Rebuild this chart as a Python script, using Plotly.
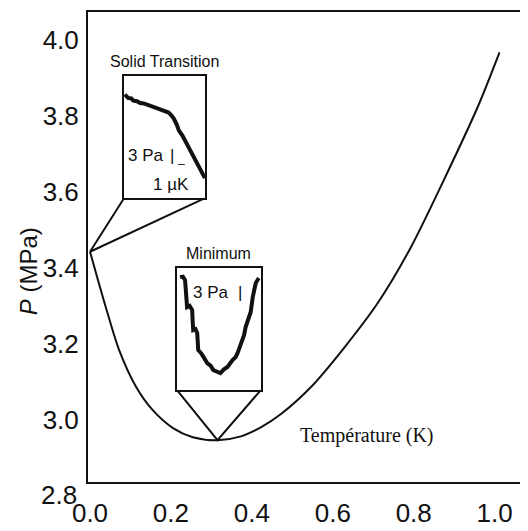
import plotly.graph_objects as go

# ---------------- data ----------------
temp_K = [0.005, 0.044, 0.077, 0.119, 0.160, 0.210, 0.259, 0.320, 0.378, 0.427,
          0.477, 0.551, 0.632, 0.716, 0.798, 0.879, 0.963, 1.017]
pressure_MPa = [3.430, 3.284, 3.171, 3.074, 3.013, 2.966, 2.942, 2.934, 2.944, 2.968,
                3.003, 3.074, 3.176, 3.295, 3.442, 3.618, 3.811, 3.955]

x_tick_vals = [0.0, 0.2, 0.4, 0.6, 0.8, 1.0]
x_tick_text = ["0.0", "0.2", "0.4", "0.6", "0.8", "1.0"]
y_tick_vals = [2.8, 3.0, 3.2, 3.4, 3.6, 3.8, 4.0]
y_tick_text = ["2.8", "3.0", "3.2", "3.4", "3.6", "3.8", "4.0"]

# inset "Solid Transition" trace (normalised units inside the inset box)
solid_x = [0.01, 0.05, 0.09, 0.115, 0.16, 0.20, 0.244, 0.29, 0.33, 0.372, 0.42, 0.47,
           0.51, 0.551, 0.585, 0.615, 0.65, 0.679, 0.72, 0.756, 0.80, 0.846, 0.89,
           0.936, 0.97, 1.0]
solid_y = [0.850, 0.822, 0.818, 0.800, 0.795, 0.780, 0.777, 0.768, 0.752, 0.744, 0.735,
           0.722, 0.712, 0.702, 0.680, 0.653, 0.605, 0.554, 0.515, 0.471, 0.420, 0.364,
           0.305, 0.240, 0.205, 0.165]

# inset "Minimum" trace (normalised units inside the inset box)
min_x = [0.036, 0.070, 0.096, 0.110, 0.120, 0.150, 0.181, 0.187, 0.193, 0.220, 0.241,
         0.247, 0.253, 0.290, 0.313, 0.361, 0.400, 0.434, 0.480, 0.518, 0.560, 0.602,
         0.663, 0.700, 0.723, 0.783, 0.800, 0.819, 0.855, 0.880, 0.904, 0.940, 0.976]
min_y = [0.926, 0.930, 0.902, 0.800, 0.680, 0.690, 0.656, 0.560, 0.492, 0.500, 0.467,
         0.400, 0.328, 0.300, 0.270, 0.221, 0.200, 0.164, 0.150, 0.139, 0.170, 0.189,
         0.246, 0.270, 0.303, 0.410, 0.450, 0.516, 0.598, 0.640, 0.762, 0.877, 0.918]

# ---------------- layout constants ----------------
X_RANGE = [0.0, 1.075]
Y_RANGE = [2.824, 4.061]
# inset boxes, in main-axis data units
solid_box = dict(x=[0.089, 0.289], y=[3.571, 3.892])
min_box = dict(x=[0.220, 0.427], y=[3.066, 3.387])

SANS = "Liberation Sans, Arial, sans-serif"
TICK_FONT = dict(family=SANS, size=26, color="#111")
INK = "#111"


def to_paper_x(v):
    return (v - X_RANGE[0]) / (X_RANGE[1] - X_RANGE[0])


def to_paper_y(v):
    return (v - Y_RANGE[0]) / (Y_RANGE[1] - Y_RANGE[0])


fig = go.Figure()

# main melting curve
fig.add_trace(go.Scatter(x=temp_K, y=pressure_MPa, mode="lines",
                         line=dict(color=INK, width=2, shape="spline", smoothing=0.8),
                         hoverinfo="skip", showlegend=False))

# connectors from inset boxes to the curve
start_pt = (temp_K[0], pressure_MPa[0])
i_min = pressure_MPa.index(min(pressure_MPa))
min_pt = (temp_K[i_min], pressure_MPa[i_min])
for box, pt in ((solid_box, start_pt), (min_box, min_pt)):
    fig.add_trace(go.Scatter(
        x=[box["x"][0], pt[0], box["x"][1]],
        y=[box["y"][0], pt[1], box["y"][0]],
        mode="lines", line=dict(color=INK, width=2),
        hoverinfo="skip", showlegend=False))

# inset traces
fig.add_trace(go.Scatter(x=solid_x, y=solid_y, xaxis="x2", yaxis="y2", mode="lines",
                         line=dict(color=INK, width=4), hoverinfo="skip", showlegend=False))
fig.add_trace(go.Scatter(x=min_x, y=min_y, xaxis="x3", yaxis="y3", mode="lines",
                         line=dict(color=INK, width=4), hoverinfo="skip", showlegend=False))

inset_axis = dict(range=[0, 1], showline=True, mirror=True, linecolor=INK, linewidth=2,
                  showgrid=False, zeroline=False, showticklabels=False, ticks="",
                  fixedrange=True, automargin=False)

main_y_ticks = [v for v in y_tick_vals if Y_RANGE[0] <= v <= Y_RANGE[1]]
main_y_text = [t for v, t in zip(y_tick_vals, y_tick_text) if Y_RANGE[0] <= v <= Y_RANGE[1]]

# the page body adds an 8 px offset, so the figure is 8 px smaller than the window
fig.update_layout(
    width=520, height=523,
    margin=dict(l=80, r=5, t=4, b=49, autoexpand=False),
    paper_bgcolor="white", plot_bgcolor="white",
    xaxis=dict(range=X_RANGE, showline=True, mirror=True, linecolor=INK, linewidth=2,
               showgrid=False, zeroline=False, tickvals=x_tick_vals, ticktext=x_tick_text,
               ticks="outside", ticklen=0, tickfont=TICK_FONT, ticklabelstandoff=7,
               ticklabelshift=2, automargin=False),
    yaxis=dict(range=Y_RANGE, showline=True, mirror=True, linecolor=INK, linewidth=2,
               showgrid=False, zeroline=False, tickvals=main_y_ticks, ticktext=main_y_text,
               ticks="outside", ticklen=0, tickfont=TICK_FONT, ticklabelstandoff=2,
               ticklabelshift=5, automargin=False),
    xaxis2=dict(inset_axis, domain=[to_paper_x(solid_box["x"][0]), to_paper_x(solid_box["x"][1])],
                anchor="y2"),
    yaxis2=dict(inset_axis, domain=[to_paper_y(solid_box["y"][0]), to_paper_y(solid_box["y"][1])],
                anchor="x2"),
    xaxis3=dict(inset_axis, domain=[to_paper_x(min_box["x"][0]), to_paper_x(min_box["x"][1])],
                anchor="y3"),
    yaxis3=dict(inset_axis, domain=[to_paper_y(min_box["y"][0]), to_paper_y(min_box["y"][1])],
                anchor="x3"),
    showlegend=False,
)

ann = []
# tick labels that fall outside the drawn range (2.8 sits just under the frame)
for v, t in zip(y_tick_vals, y_tick_text):
    if v < Y_RANGE[0]:
        ann.append(dict(x=0, xref="paper", y=to_paper_y(v), yref="paper", text=t,
                        showarrow=False, xanchor="right", yanchor="middle",
                        xshift=-9, yshift=-4, font=TICK_FONT))
# axis titles
ann.append(dict(x=-0.135, y=0.449, xref="paper", yref="paper", text="<i>P</i> (MPa)",
                textangle=-90, showarrow=False, xanchor="center", yanchor="middle",
                font=dict(family=SANS, size=24, color=INK)))
ann.append(dict(x=0.689, y=2.947, xref="x", yref="y", text="Température (K)",
                showarrow=False, xanchor="center", yanchor="middle",
                font=dict(family="Liberation Serif, Times New Roman, serif", size=20, color=INK)))
# inset titles
ann.append(dict(x=0.5, y=1.0, xref="x2 domain", yref="y2 domain", text="Solid Transition",
                showarrow=False, yanchor="bottom", yshift=4,
                font=dict(family=SANS, size=16, color=INK)))
ann.append(dict(x=0.5, y=1.0, xref="x3 domain", yref="y3 domain", text="Minimum",
                showarrow=False, yanchor="bottom", yshift=4,
                font=dict(family=SANS, size=16, color=INK)))
# inset scale labels
ann.append(dict(x=0.03, y=0.35, xref="x2 domain", yref="y2 domain", text="3 Pa",
                showarrow=False, xanchor="left", yanchor="middle",
                font=dict(family=SANS, size=17, color=INK)))
ann.append(dict(x=0.59, y=0.35, xref="x2 domain", yref="y2 domain", text="|",
                showarrow=False, xanchor="center", yanchor="middle",
                font=dict(family=SANS, size=17, color=INK)))
ann.append(dict(x=0.70, y=0.255, xref="x2 domain", yref="y2 domain", text="_",
                showarrow=False, xanchor="center", yanchor="bottom",
                font=dict(family=SANS, size=12, color=INK)))
ann.append(dict(x=0.58, y=0.11, xref="x2 domain", yref="y2 domain", text="1 µK",
                showarrow=False, xanchor="center", yanchor="middle",
                font=dict(family=SANS, size=17, color=INK)))
ann.append(dict(x=0.41, y=0.80, xref="x3 domain", yref="y3 domain", text="3 Pa",
                showarrow=False, xanchor="center", yanchor="middle",
                font=dict(family=SANS, size=17, color=INK)))
ann.append(dict(x=0.75, y=0.80, xref="x3 domain", yref="y3 domain", text="|",
                showarrow=False, xanchor="center", yanchor="middle",
                font=dict(family=SANS, size=17, color=INK)))
fig.update_layout(annotations=ann)

fig.write_html("out.html")
